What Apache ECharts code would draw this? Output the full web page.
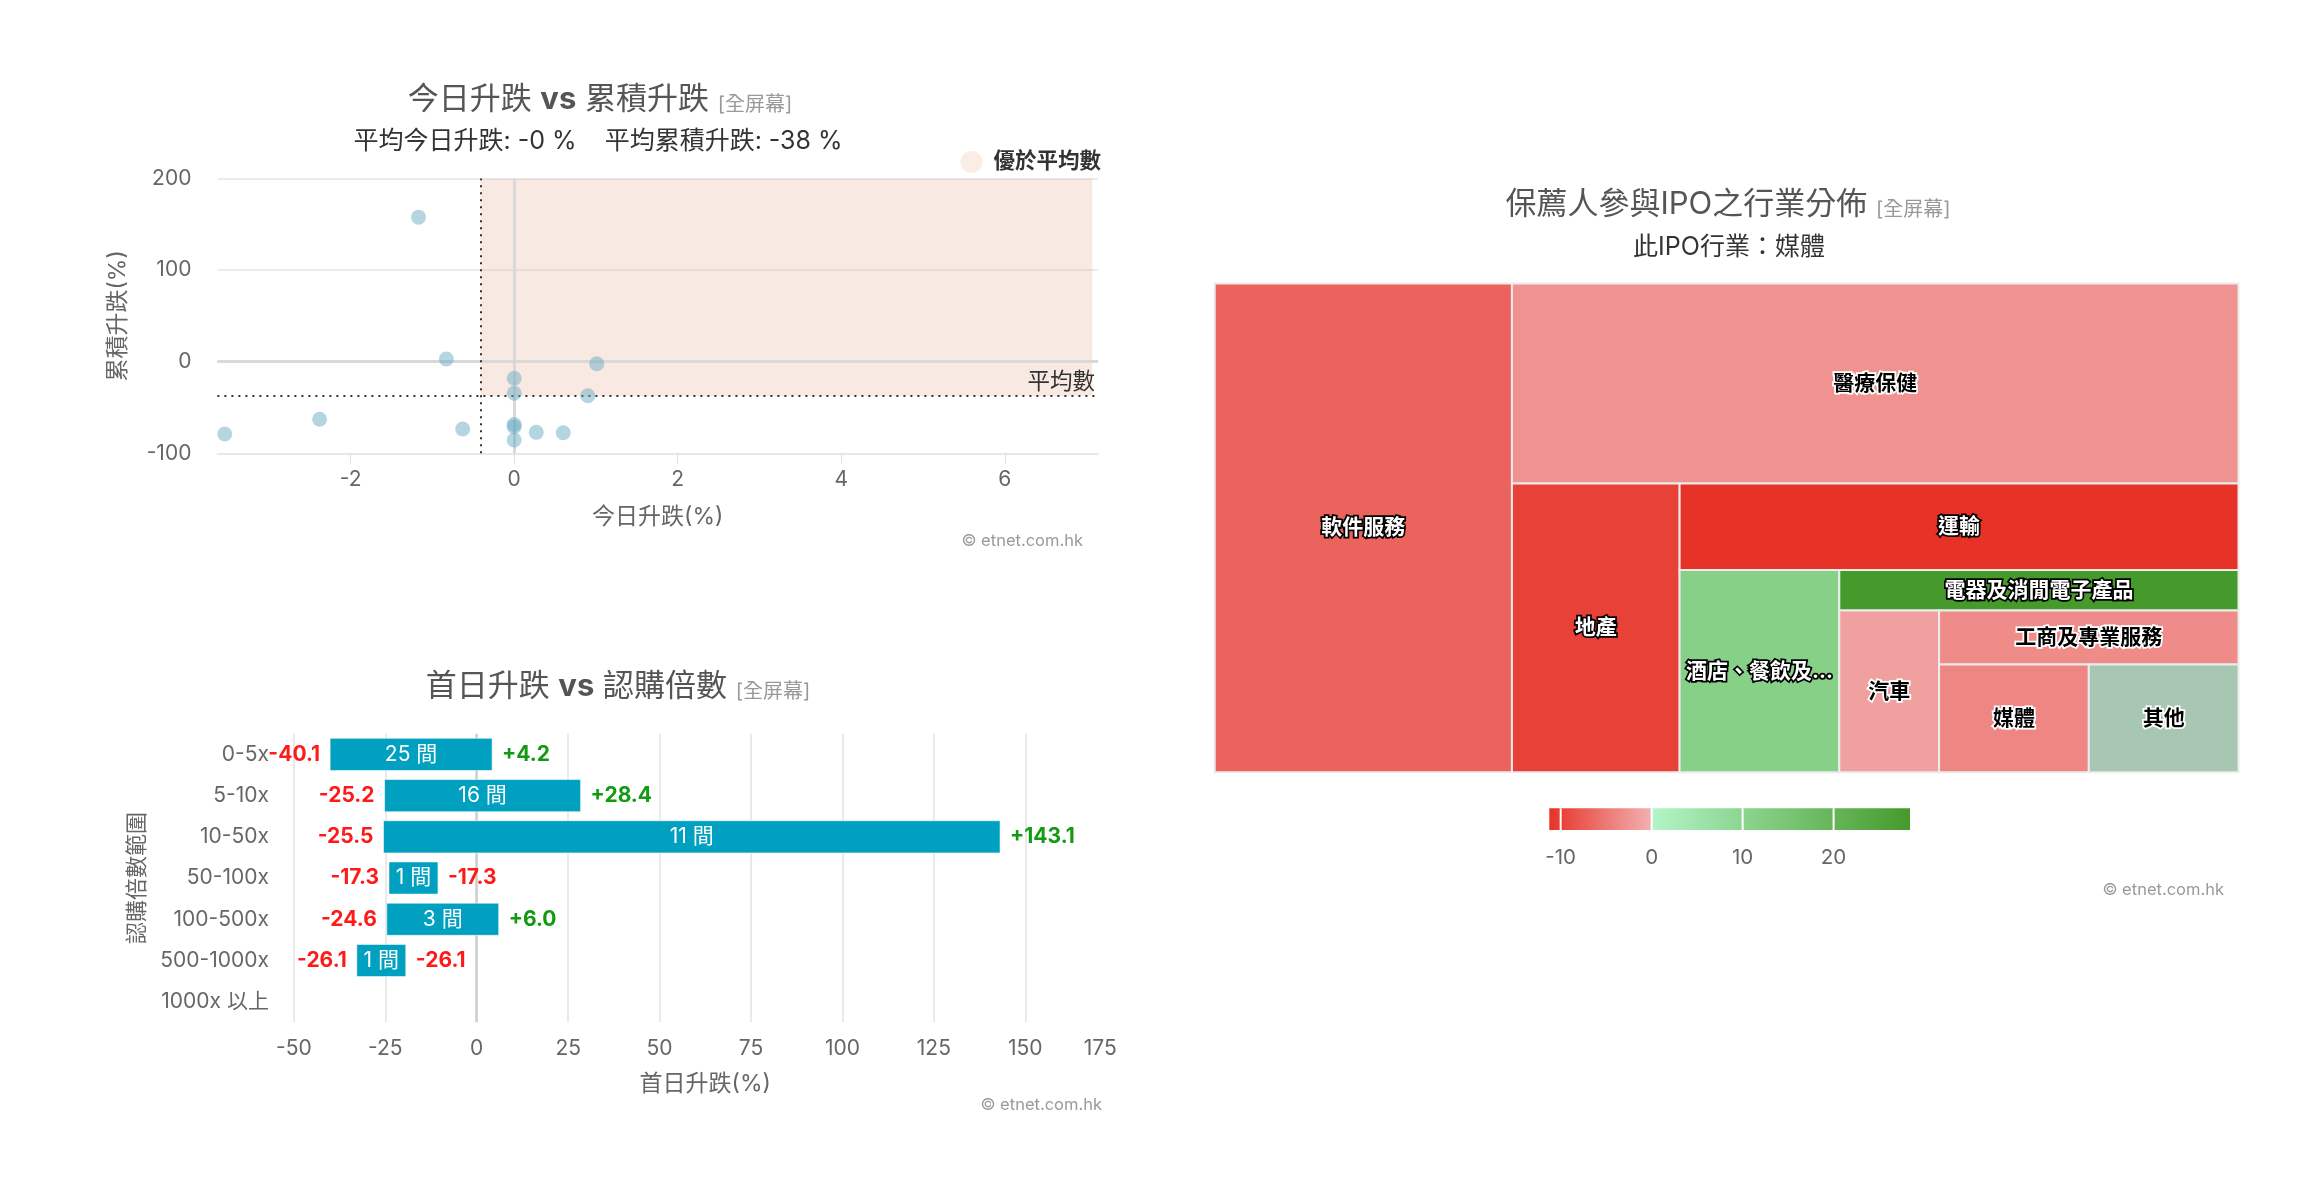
<!DOCTYPE html>
<html><head><meta charset="utf-8">
<script src="https://cdn.jsdelivr.net/npm/echarts@6/dist/echarts.min.js"></script>
<style>html,body{margin:0;padding:0;background:#fff}#c{width:2303px;height:1200px}</style>
</head><body><div id="c"></div>
<script>
const FONT = "Inter, 'Noto Sans CJK TC', sans-serif";

// ---------- Scatter: 今日升跌 vs 累積升跌 ----------
const todayChange = [-1.17, -0.83, 0, 0, 1.01, 0.90, 0, 0, 0, 0.27, 0.60, -0.63, -2.38, -3.54];
const cumChange   = [157.8, 2.9, -18.1, -34.5, -2.2, -37.1, -68.5, -71.0, -85.5, -77.1, -77.5, -73.5, -62.9, -78.9];
const scatterXTicks = [-2, 0, 2, 4, 6];
const scatterXRange = [-3.63, 7.14];
const scatterYRange = [-100, 200];
const betterBandEnd = 7.07;

// ---------- Bar: 首日升跌 vs 認購倍數 ----------
const subCategories = ['0-5x', '5-10x', '10-50x', '50-100x', '100-500x', '500-1000x', '1000x 以上'];
const firstDayMin = [-40.1, -25.2, -25.5, -17.3, -24.6, -26.1, null];
const firstDayMax = [4.2, 28.4, 143.1, -17.3, 6.0, -26.1, null];
const ipoCount    = [25, 16, 11, 1, 3, 1, 0];
const barTicks = [-50, -25, 0, 25, 50, 75, 100, 125, 150, 175];

// ---------- Treemap: 保薦人參與IPO之行業分佈 ----------
const industries = ['軟件服務', '醫療保健', '地產', '運輸', '酒店、餐飲及休閒', '電器及消閒電子產品', '汽車', '工商及專業服務', '媒體', '其他'];
const industryCount  = [9, 9, 3, 3, 2, 1, 1, 1, 1, 1];
const industryChange = [-7.0, -2.8, -10.0, -11.25, 11.4, 28.4, -1.5, -3.3, -3.8, null];
const colorTicks = [-10, 0, 10, 20];

// ---------- helpers ----------
const mean = a => a.reduce((s, v) => s + v, 0) / a.length;
const avgToday = mean(todayChange), avgCum = mean(cumChange);
const validChange = industryChange.filter(v => v != null);
const cMin = Math.min(...validChange), cMax = Math.max(...validChange);
const lowColor = [231, 51, 39], zeroLow = [242, 177, 179], zeroHigh = [179, 245, 199], highColor = [69, 154, 43];
const nullColor = 'rgb(168,199,178)';
const mix = (a, b, t) => a.map((v, i) => Math.round(v + (b[i] - v) * t));
const rgb = c => 'rgb(' + c.join(',') + ')';
function colorArr(v) {
  if (v < 0) return mix(lowColor, zeroLow, (v - cMin) / (0 - cMin));
  return mix(zeroHigh, highColor, v / cMax);
}
function contrast(c) { return (c[0] + c[1] * 1.2 + c[2] * 0.5 > 1.8 * 255) ? '#000000' : '#FFFFFF'; }

// slice-and-dice layout in a 0..100 x 0..100 space (alternating direction)
function sliceAndDice(vals) {
  const total = vals.reduce((s, v) => s + v, 0);
  let x = 0, y = 0, w = 100, h = 100, dir = 0;
  return vals.map(v => {
    const area = 10000 * v / total;
    let r;
    if (dir === 0) { const pw = area / h; r = [x, y, x + pw, y + h]; x += pw; w -= pw; }
    else { const ph = area / w; r = [x, y, x + w, y + ph]; y += ph; h -= ph; }
    dir = 1 - dir;
    return r;
  });
}
const cells = sliceAndDice(industryCount);

const fmtSigned = v => (v > 0 ? '+' : '') + v.toFixed(1);
const signColor = v => v < 0 ? '#ff1a1a' : '#129a12';

function renderBar(params, api) {
  const cat = api.value(0), lo = api.value(1), hi = api.value(2), cnt = api.value(3);
  const p1 = api.coord([lo, cat]), p2 = api.coord([hi, cat]);
  const band = api.size([0, 1])[1];
  let x1 = p1[0], x2 = p2[0];
  const cy = p1[1];
  const minW = 49;
  if (x2 - x1 < minW) { const c = (x1 + x2) / 2; x1 = c - minW / 2; x2 = c + minW / 2; }
  const h = band * 0.78;
  return { type: 'group', children: [
    { type: 'rect', shape: { x: x1, y: cy - h / 2, width: x2 - x1, height: h },
      style: { fill: '#00a0c0', stroke: 'rgba(255,255,255,0.55)', lineWidth: 1 } },
    { type: 'text', style: { text: cnt + ' 間', x: (x1 + x2) / 2, y: cy, align: 'center', verticalAlign: 'middle',
      fill: '#ffffff', fontSize: 21, fontFamily: FONT } },
    { type: 'text', style: { text: fmtSigned(lo), x: x1 - 10, y: cy, align: 'right', verticalAlign: 'middle',
      fill: signColor(lo), fontSize: 21, fontWeight: 'bold', fontFamily: FONT } },
    { type: 'text', style: { text: fmtSigned(hi), x: x2 + 10, y: cy, align: 'left', verticalAlign: 'middle',
      fill: signColor(hi), fontSize: 21, fontWeight: 'bold', fontFamily: FONT } }
  ]};
}

function renderCell(params, api) {
  const i = params.dataIndex;
  const a = api.coord([api.value(0), api.value(1)]);
  const b = api.coord([api.value(2), api.value(3)]);
  const v = industryChange[i];
  const c = v == null ? [168, 199, 178] : colorArr(v);
  const fill = v == null ? nullColor : rgb(c);
  const txt = contrast(c);
  const w = b[0] - a[0], h = b[1] - a[1];
  return { type: 'group', children: [
    { type: 'rect', shape: { x: a[0], y: a[1], width: w, height: h },
      style: { fill: fill, stroke: '#ececec', lineWidth: 2 } },
    { type: 'text', z2: 10, style: { text: industries[i], x: a[0] + w / 2, y: a[1] + h / 2, align: 'center', verticalAlign: 'middle',
      fill: txt, stroke: txt === '#000000' ? '#ffffff' : '#000000', lineWidth: 3.5,
      fontSize: 21, fontWeight: 'bold', fontFamily: FONT, width: w - 6, overflow: 'truncate', ellipsis: '...' } }
  ]};
}

function renderColorBar(params, api) {
  const top = api.coord([cMin, 1])[1], bot = api.coord([cMin, 0])[1];
  const xl = api.coord([cMin, 0])[0], x0 = api.coord([0, 0])[0], xr = api.coord([cMax, 0])[0];
  const G = echarts.graphic.LinearGradient;
  const children = [
    { type: 'rect', shape: { x: xl, y: top, width: x0 - xl, height: bot - top },
      style: { fill: new G(0, 0, 1, 0, [{ offset: 0, color: rgb(lowColor) }, { offset: 1, color: rgb(zeroLow) }]) } },
    { type: 'rect', shape: { x: x0, y: top, width: xr - x0, height: bot - top },
      style: { fill: new G(0, 0, 1, 0, [{ offset: 0, color: rgb(zeroHigh) }, { offset: 1, color: rgb(highColor) }]) } }
  ];
  colorTicks.forEach(t => {
    const x = api.coord([t, 0])[0];
    children.push({ type: 'line', shape: { x1: x, y1: top, x2: x, y2: bot }, style: { stroke: '#ffffff', lineWidth: 2 } });
  });
  return { type: 'group', children };
}

const titleRich = {
  m: { fontSize: 31, color: '#555', fontFamily: FONT, fontWeight: 'normal', lineHeight: 38, verticalAlign: 'bottom' },
  b: { fontSize: 31, color: '#555', fontFamily: FONT, fontWeight: 'bold', lineHeight: 38, verticalAlign: 'bottom' },
  s: { fontSize: 20, color: '#999', fontFamily: FONT, fontWeight: 'normal', lineHeight: 31, verticalAlign: 'bottom' }
};
const mkTitle = (t, x, y) => ({ text: t + ' {s|[全屏幕]}', left: x, top: y, textAlign: 'center', padding: 0,
  textStyle: { fontSize: 31, fontWeight: 'normal', fontFamily: FONT, rich: titleRich } });
const mkSub = (t, x, y) => ({ text: t, left: x, top: y, textAlign: 'center', padding: 0,
  textStyle: { fontSize: 25, fontWeight: 'normal', color: '#333', fontFamily: FONT, lineHeight: 30 } });

const axisLbl = { fontSize: 21, color: '#666', fontFamily: FONT };
const nameStyle = { fontSize: 23, color: '#666', fontFamily: FONT };

const chart = echarts.init(document.getElementById('c'), null, { renderer: 'canvas' });
chart.setOption({
  animation: false,
  backgroundColor: '#ffffff',
  textStyle: { fontFamily: FONT },
  title: [
    mkTitle('{m|今日升跌} {b|vs} {m|累積升跌}', 600, 77),
    mkSub('平均今日升跌: ' + avgToday.toFixed(0) + ' %    平均累積升跌: ' + avgCum.toFixed(0) + ' %', 598, 126),
    mkTitle('{m|首日升跌} {b|vs} {m|認購倍數}', 618, 664),
    mkTitle('{m|保薦人參與IPO之行業分佈}', 1728, 182),
    mkSub('此IPO行業：媒體', 1729, 232)
  ],
  legend: {
    data: ['優於平均數'], right: 2303 - 1101, top: 151, padding: 0, icon: 'circle', itemWidth: 22, itemHeight: 22,
    selectedMode: false, textStyle: { fontSize: 21.5, fontWeight: 'bold', color: '#333', fontFamily: FONT, padding: [0, 0, 0, 6] }
  },
  grid: [
    { left: 217.4, top: 178.5, width: 880.6, height: 274.8, outerBoundsMode: 'none', containLabel: false },
    { left: 293.9, top: 733.8, width: 822.8, height: 288.5, outerBoundsMode: 'none', containLabel: false },
    { left: 1214.7, top: 283.5, width: 1023.8, height: 488.8, outerBoundsMode: 'none', containLabel: false },
    { left: 1549.3, top: 808.3, width: 360.7, height: 21.7, outerBoundsMode: 'none', containLabel: false }
  ],
  xAxis: [
    { gridIndex: 0, type: 'value', min: scatterXRange[0], max: scatterXRange[1],
      axisLine: { show: true, onZero: false, lineStyle: { color: '#e6e6e6', width: 1.5 } },
      axisTick: { show: true, customValues: scatterXTicks, length: 10, lineStyle: { color: '#dedede', width: 1 } },
      axisLabel: Object.assign({ customValues: scatterXTicks, margin: 16 }, axisLbl),
      splitLine: { show: false },
      name: '今日升跌(%)', nameLocation: 'middle', nameGap: 52, nameMoveOverlap: false, nameTextStyle: nameStyle },
    { gridIndex: 1, type: 'value', min: barTicks[0], max: barTicks[barTicks.length - 1],
      axisLine: { show: false, onZero: false },
      axisTick: { show: false, customValues: barTicks.slice(0, -1) },
      axisLabel: Object.assign({ customValues: barTicks, margin: 16, alignMaxLabel: 'right' }, axisLbl),
      splitLine: { show: true, lineStyle: { color: '#e3e3e3', width: 1.5 } },
      name: '首日升跌(%)', nameLocation: 'middle', nameGap: 50, nameMoveOverlap: false, nameTextStyle: nameStyle },
    { gridIndex: 2, type: 'value', min: 0, max: 100, show: false },
    { gridIndex: 3, type: 'value', min: cMin, max: cMax,
      axisLine: { show: false }, axisTick: { show: false }, splitLine: { show: false },
      axisLabel: { customValues: colorTicks, margin: 18, fontSize: 20.5, color: '#666', fontFamily: FONT } }
  ],
  yAxis: [
    { gridIndex: 0, type: 'value', min: scatterYRange[0], max: scatterYRange[1], interval: 100,
      axisLine: { show: false, onZero: false }, axisTick: { show: false },
      axisLabel: Object.assign({ margin: 26 }, axisLbl),
      splitLine: { show: true, lineStyle: { color: '#e6e6e6', width: 1.5 } },
      name: '累積升跌(%)', nameLocation: 'middle', nameGap: 88, nameMoveOverlap: false, nameTextStyle: nameStyle },
    { gridIndex: 1, type: 'category', data: subCategories, inverse: true,
      axisLine: { show: false, onZero: false }, axisTick: { show: false },
      axisLabel: Object.assign({ margin: 25 }, axisLbl), splitLine: { show: false },
      name: '認購倍數範圍', nameLocation: 'middle', nameGap: 146, nameMoveOverlap: false,
      nameTextStyle: { fontSize: 22, color: '#666', fontFamily: FONT } },
    { gridIndex: 2, type: 'value', min: 0, max: 100, inverse: true, show: false },
    { gridIndex: 3, type: 'value', min: 0, max: 1, show: false }
  ],
  series: [
    { name: '優於平均數', type: 'scatter', xAxisIndex: 0, yAxisIndex: 0, data: [], silent: true,
      itemStyle: { color: '#f8e9df' },
      markArea: { silent: true, itemStyle: { color: 'rgba(230,180,150,0.28)' },
        data: [[{ coord: [avgToday, avgCum] }, { coord: [betterBandEnd, scatterYRange[1]] }]] },
      markLine: { silent: true, symbol: 'none', animation: false, data: [
        { xAxis: 0, lineStyle: { color: '#d9d9d9', width: 3, type: 'solid' }, label: { show: false } },
        { yAxis: 0, lineStyle: { color: '#d9d9d9', width: 3, type: 'solid' }, label: { show: false } },
        { xAxis: avgToday, lineStyle: { color: '#333', width: 2, type: [2, 5] }, label: { show: false } },
        { yAxis: avgCum, lineStyle: { color: '#333', width: 2, type: [2, 5] },
          label: { show: true, position: 'insideEndTop', formatter: '平均數', color: '#333', fontSize: 22.5, fontFamily: FONT, distance: 3 } }
      ] } },
    { name: 'points', type: 'scatter', xAxisIndex: 0, yAxisIndex: 0, z: 6, silent: true, symbolSize: 15,
      data: todayChange.map((x, i) => [x, cumChange[i]]),
      itemStyle: { color: 'rgba(100,170,192,0.6)' } },
    { name: 'zero', type: 'scatter', xAxisIndex: 1, yAxisIndex: 1, data: [], silent: true,
      markLine: { silent: true, symbol: 'none', animation: false,
        data: [{ xAxis: 0 }], lineStyle: { color: '#cfcfcf', width: 2.5, type: 'solid' }, label: { show: false } } },
    { name: 'bars', type: 'custom', xAxisIndex: 1, yAxisIndex: 1, z: 10, silent: true,
      encode: { x: [1, 2], y: 0 },
      data: subCategories.map((c, i) => [i, firstDayMin[i], firstDayMax[i], ipoCount[i]]).filter(d => d[3] > 0),
      renderItem: renderBar },
    { name: 'treemap', type: 'custom', xAxisIndex: 2, yAxisIndex: 2, silent: true,
      encode: { x: [0, 2], y: [1, 3] },
      data: cells.map(r => r.slice()),
      renderItem: renderCell },
    { name: 'colorbar', type: 'custom', xAxisIndex: 3, yAxisIndex: 3, silent: true,
      encode: { x: [0, 1] },
      data: [[cMin, cMax]],
      renderItem: renderColorBar }
  ],
  graphic: [
    { type: 'text', right: 2303 - 1083, top: 533, style: { text: '© etnet.com.hk', fill: '#999', fontSize: 16.5, fontFamily: FONT } },
    { type: 'text', right: 2303 - 1102, top: 1097, style: { text: '© etnet.com.hk', fill: '#999', fontSize: 16.5, fontFamily: FONT } },
    { type: 'text', right: 2303 - 2224, top: 882, style: { text: '© etnet.com.hk', fill: '#999', fontSize: 16.5, fontFamily: FONT } }
  ]
});
</script>
</body></html>
